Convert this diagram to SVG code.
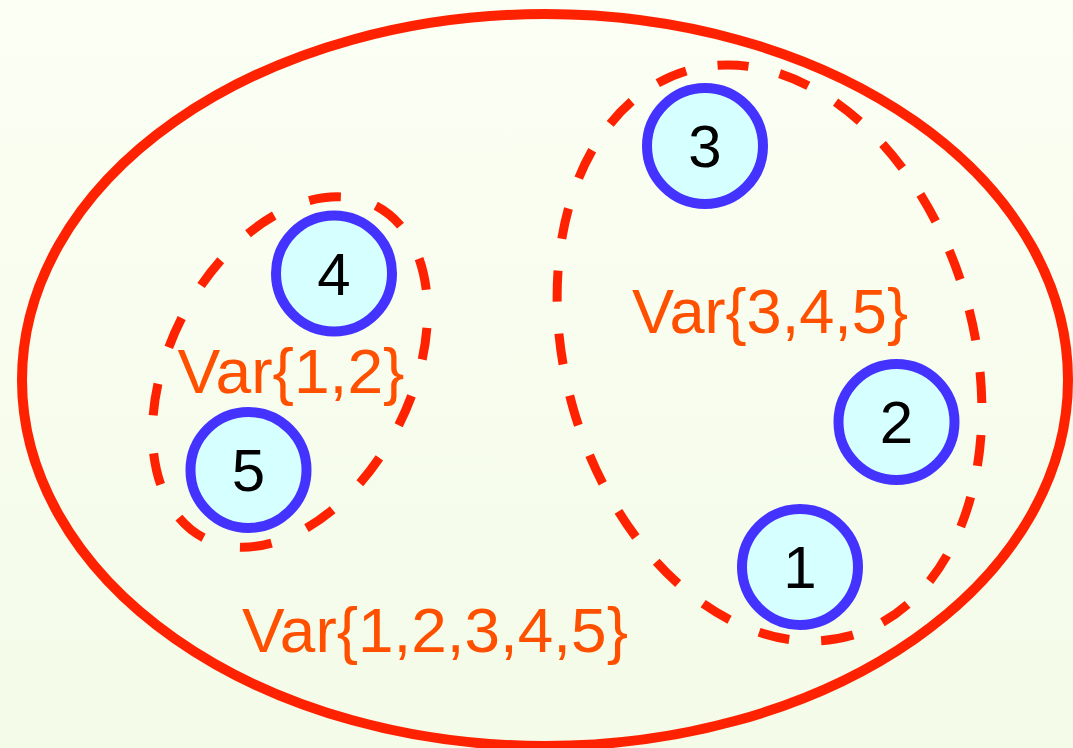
<svg xmlns="http://www.w3.org/2000/svg" width="1073" height="748" viewBox="0 0 1073 748">
<defs>
<linearGradient id="bg" x1="0" y1="0" x2="0" y2="1">
<stop offset="0" stop-color="#fbfff4"/>
<stop offset="1" stop-color="#f4fbe8"/>
</linearGradient>
<style>
.outer{fill:none;stroke:#ff2200;stroke-width:10}
.dash{fill:none;stroke:#ff2200;stroke-width:9}
.node circle{fill:#d6ffff;stroke:#4433ff;stroke-width:10}
.node text{font-family:"Liberation Sans",Arial,sans-serif;font-size:60px;fill:#000;text-anchor:middle}
.lbl{font-family:"Liberation Sans",Arial,sans-serif;font-size:63px;fill:#ff5000;text-anchor:middle}
</style>
</defs>
<rect width="1073" height="748" fill="url(#bg)"/>
<g id="groups">
<ellipse class="outer" cx="545" cy="380" rx="523" ry="366"/>
<ellipse class="dash" cx="290" cy="372" rx="187" ry="121" transform="rotate(-62.7 290 372)" stroke-dasharray="32 38"/>
<ellipse class="dash" cx="769.5" cy="353" rx="294" ry="204" transform="rotate(73.8 769.5 353)" stroke-dasharray="31 32"/>
</g>
<g id="labels">
<text class="lbl" x="435" y="652" textLength="386" lengthAdjust="spacingAndGlyphs">Var{1,2,3,4,5}</text>
<text class="lbl" x="770" y="333" textLength="276" lengthAdjust="spacingAndGlyphs">Var{3,4,5}</text>
<text class="lbl" x="291" y="393" textLength="227" lengthAdjust="spacingAndGlyphs">Var{1,2}</text>
</g>
<g id="node1" class="node"><circle cx="800" cy="567" r="58"/><text x="800" y="588">1</text></g>
<g id="node2" class="node"><circle cx="896.5" cy="422" r="58"/><text x="896.5" y="443">2</text></g>
<g id="node3" class="node"><circle cx="705" cy="146" r="58"/><text x="705" y="167">3</text></g>
<g id="node4" class="node"><circle cx="334" cy="273.5" r="58"/><text x="334" y="295">4</text></g>
<g id="node5" class="node"><circle cx="248.5" cy="470" r="58"/><text x="248.5" y="491">5</text></g>
</svg>
